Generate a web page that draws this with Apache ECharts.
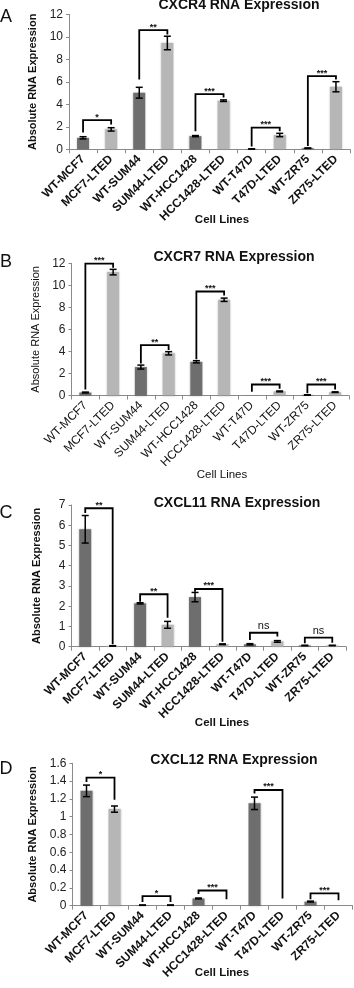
<!DOCTYPE html>
<html>
<head>
<meta charset="utf-8">
<script src="https://cdn.jsdelivr.net/npm/echarts@6/dist/echarts.min.js"></script>
<style>
html,body{margin:0;padding:0;background:#fff;}
#chart{width:354px;height:988px;}
</style>
</head>
<body>
<div id="chart"></div>
<script>
// categories
var cellLines = ['WT-MCF7','MCF7-LTED','WT-SUM44','SUM44-LTED','WT-HCC1428','HCC1428-LTED','WT-T47D','T47D-LTED','WT-ZR75','ZR75-LTED'];

// A: CXCR4
var cxcr4 = [1.02, 1.77, 5.03, 9.45, 1.17, 4.32, 0.03, 1.27, 0.1, 5.56];
var cxcr4Err = [0.1, 0.15, 0.48, 0.6, 0.05, 0.07, 0.01, 0.15, 0.02, 0.45];
// [left cat, right cat, bracket y, left end y, right end y]
var cxcr4Brackets = [[0,1,2.6,1.5,2.2],[2,3,10.6,6.2,10.2],[4,5,4.9,1.6,4.6],[6,7,1.92,0.25,1.6],[8,9,6.5,0.3,6.2]];
var cxcr4Marks = ['*','**','***','***','***'];

// B: CXCR7
var cxcr7 = [0.27, 11.2, 2.58, 3.83, 3.06, 8.69, 0.01, 0.37, 0.05, 0.3];
var cxcr7Err = [0.04, 0.25, 0.18, 0.15, 0.1, 0.15, 0, 0.04, 0.02, 0.03];
var cxcr7Brackets = [[0,1,11.97,0.55,11.6],[2,3,4.58,2.9,4.13],[4,5,9.44,3.3,9.08],[6,7,1.0,0.35,0.62],[8,9,1.0,0.2,0.55]];
var cxcr7Marks = ['***','**','***','***','***'];

// C: CXCL11
var cxcl11 = [5.8, 0.04, 2.14, 1.08, 2.45, 0.12, 0.12, 0.26, 0.06, 0.06];
var cxcl11Err = [0.68, 0.01, 0.03, 0.17, 0.23, 0.02, 0.03, 0.04, 0.01, 0.01];
var cxcl11Brackets = [[0,1,6.84,6.6,0.12],[2,3,2.59,2.22,1.43],[4,5,2.85,2.72,0.25],[6,7,0.69,0.33,0.5],[8,9,0.45,0.17,0.2]];
var cxcl11Marks = ['**','**','***','ns','ns'];

// D: CXCL12
var cxcl12 = [1.29, 1.085, 0.005, 0.005, 0.08, 0, 1.15, 0, 0.045, 0];
var cxcl12Err = [0.065, 0.035, 0.002, 0.002, 0.005, 0, 0.07, 0, 0.005, 0];
var cxcl12Brackets = [[0,1,1.44,1.39,1.19],[2,3,0.107,0.04,0.04],[4,5,0.17,0.13,0.07],[6,7,1.30,1.26,0.08],[8,9,0.137,0.07,0.06]];
var cxcl12Marks = ['*','*','***','***','***'];

var yMax = [12, 12, 7, 1.6];
var yStep = [2, 2, 1, 0.2];
var titles = ['CXCR4 RNA Expression','CXCR7 RNA Expression','CXCL11 RNA Expression','CXCL12 RNA Expression'];
var letters = ['A','B','C','D'];

var FONT = '"Liberation Sans", Arial, Helvetica, sans-serif';
var DARK = '#6e6e6e', LIGHT = '#b6b6b6';

var panels = [
  {vals:cxcr4, err:cxcr4Err, br:cxcr4Brackets, mk:cxcr4Marks, grid:{left:69,top:14.3,width:281,height:135}, bold:true, nameGap:27,
   title:[239,5], letter:[6,17], cell:[222,220]},
  {vals:cxcr7, err:cxcr7Err, br:cxcr7Brackets, mk:cxcr7Marks, grid:{left:71.5,top:263.3,width:277.5,height:132.2}, bold:false, nameGap:29,
   title:[234,257], letter:[6,262], cell:[222,475]},
  {vals:cxcl11, err:cxcl11Err, br:cxcl11Brackets, mk:cxcl11Marks, grid:{left:71.5,top:505,width:274.5,height:141.7}, bold:true, nameGap:29,
   title:[237,503], letter:[6,513], cell:[222,723]},
  {vals:cxcl12, err:cxcl12Err, br:cxcl12Brackets, mk:cxcl12Marks, grid:{left:72.5,top:763.3,width:280,height:142.3}, bold:true, nameGap:31,
   title:[234,760], letter:[6,769], cell:[222,973]}
];

function errRenderer(errs){
  return function(params, api){
    var i = api.value(0), v = api.value(1), e = errs[params.dataIndex];
    if (!e) return;
    var hi = api.coord([i, v + e]);
    var lo = api.coord([i, Math.max(0, v - e)]);
    var w = 3.5, st = {stroke:'#000', lineWidth:1.5};
    return {type:'group', children:[
      {type:'line', shape:{x1:hi[0],y1:hi[1],x2:lo[0],y2:lo[1]}, style:st},
      {type:'line', shape:{x1:hi[0]-w,y1:hi[1],x2:hi[0]+w,y2:hi[1]}, style:st},
      {type:'line', shape:{x1:lo[0]-w,y1:lo[1],x2:lo[0]+w,y2:lo[1]}, style:st}
    ]};
  };
}

function bracketRenderer(marks){
  return function(params, api){
    var a = api.coord([api.value(0), api.value(2)]);
    var b = api.coord([api.value(1), api.value(2)]);
    var al = api.coord([api.value(0), api.value(3)]);
    var bl = api.coord([api.value(1), api.value(4)]);
    var m = marks[params.dataIndex];
    var ns = m === 'ns';
    return {type:'group', children:[
      {type:'polyline', shape:{points:[[al[0],al[1]],[a[0],a[1]],[b[0],b[1]],[bl[0],bl[1]]]},
       style:{stroke:'#000', lineWidth:1.8, fill:null}},
      {type:'text', x:(a[0]+b[0])/2, y:a[1] - (ns ? 7 : 3),
       style:{text:m, fill:'#111', font:(ns ? '11px ' : 'bold 9px ') + FONT, align:'center', verticalAlign:'middle'}}
    ]};
  };
}

var grids = [], xAxes = [], yAxes = [], series = [], graphics = [];
panels.forEach(function(p, k){
  grids.push(p.grid);
  xAxes.push({
    type:'category', gridIndex:k, data:cellLines,
    axisLine:{lineStyle:{color:'#8a8a8a', width:1}},
    axisTick:{show:true, length:4, lineStyle:{color:'#8a8a8a'}},
    axisLabel:{rotate:45, interval:0, margin:8, color:'#111', fontFamily:FONT, fontSize:12, fontWeight:p.bold ? 'bold' : 'normal'}
  });
  yAxes.push({
    type:'value', gridIndex:k, min:0, max:yMax[k], interval:yStep[k],
    name:'Absolute RNA Expression', nameLocation:'middle', nameGap:p.nameGap,
    nameTextStyle:{color:'#111', fontFamily:FONT, fontSize:11, fontWeight:p.bold ? 'bold' : 'normal'},
    axisLine:{show:true, lineStyle:{color:'#8a8a8a', width:1}},
    axisTick:{show:true, length:3, lineStyle:{color:'#8a8a8a'}},
    splitLine:{show:false},
    axisLabel:{color:'#222', fontFamily:FONT, fontSize:12, margin:6}
  });
  series.push({
    type:'bar', xAxisIndex:k, yAxisIndex:k, data:p.vals, barWidth:12, silent:true,
    itemStyle:{color:function(pp){ return pp.dataIndex % 2 === 0 ? DARK : LIGHT; },
               shadowBlur:2, shadowColor:'rgba(0,0,0,0.25)'}
  });
  series.push({
    type:'custom', xAxisIndex:k, yAxisIndex:k, silent:true, z:5,
    data:p.vals.map(function(v, i){ return [i, v]; }),
    renderItem:errRenderer(p.err)
  });
  series.push({
    type:'custom', xAxisIndex:k, yAxisIndex:k, silent:true, z:6,
    data:p.br, renderItem:bracketRenderer(p.mk)
  });
  graphics.push({type:'text', x:p.title[0], y:p.title[1],
    style:{text:titles[k], font:'bold 14px ' + FONT, fill:'#111', align:'center', verticalAlign:'middle'}});
  graphics.push({type:'text', x:p.letter[0], y:p.letter[1],
    style:{text:letters[k], font:'18px ' + FONT, fill:'#111', align:'center', verticalAlign:'middle'}});
  graphics.push({type:'text', x:p.cell[0], y:p.cell[1],
    style:{text:'Cell Lines', font:(p.bold ? 'bold ' : '') + '11.5px ' + FONT, fill:'#111', align:'center', verticalAlign:'middle'}});
});

var myChart = echarts.init(document.getElementById('chart'), null, {renderer:'canvas'});
myChart.setOption({
  animation:false,
  backgroundColor:'#fff',
  grid:grids, xAxis:xAxes, yAxis:yAxes, series:series,
  graphic:graphics
});
</script>
</body>
</html>
